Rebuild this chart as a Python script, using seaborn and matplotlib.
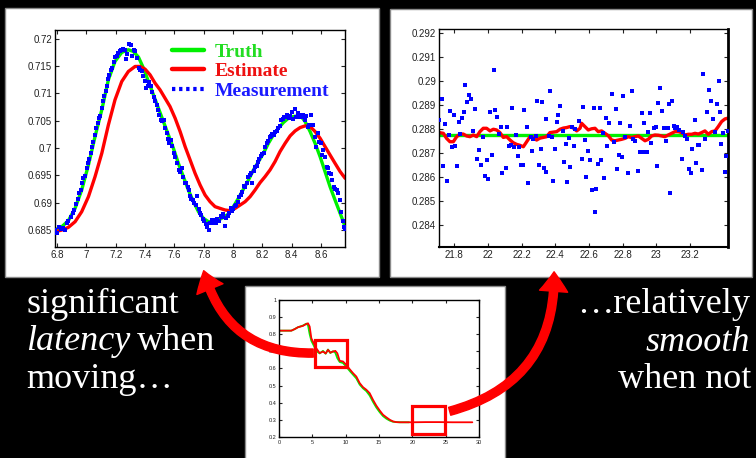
import numpy as np
import matplotlib
matplotlib.use("Agg")
import matplotlib.pyplot as plt
import seaborn as sns
from matplotlib.patches import Rectangle, FancyArrowPatch
from matplotlib.lines import Line2D
from matplotlib.ticker import FormatStrFormatter

# ---------------- data: left panel (moving) ----------------
truthL_x = [6.786, 6.832, 6.877, 6.923, 6.968, 7.014, 7.059, 7.105, 7.150, 7.195,
            7.241, 7.286, 7.320, 7.355, 7.389, 7.423, 7.457, 7.491, 7.525, 7.559,
            7.593, 7.627, 7.661, 7.695, 7.730, 7.764, 7.798, 7.832, 7.866, 7.900,
            7.934, 7.968, 8.002, 8.036, 8.070, 8.105, 8.139, 8.173, 8.207, 8.241,
            8.275, 8.309, 8.343, 8.377, 8.411, 8.445, 8.468, 8.491, 8.525, 8.559,
            8.593, 8.627, 8.661, 8.695, 8.730, 8.764]
truthL_y = [0.68500, 0.68561, 0.68671, 0.68897, 0.69233, 0.69691, 0.70210, 0.70699, 0.71249, 0.71585,
            0.71750, 0.71799, 0.71768, 0.71664, 0.71463, 0.71218, 0.70974, 0.70730, 0.70485, 0.70241,
            0.69997, 0.69722, 0.69477, 0.69233, 0.69019, 0.68836, 0.68714, 0.68653, 0.68653, 0.68683,
            0.68732, 0.68793, 0.68928, 0.69080, 0.69245, 0.69416, 0.69600, 0.69752, 0.69905, 0.70088,
            0.70241, 0.70363, 0.70467, 0.70546, 0.70577, 0.70589, 0.70565, 0.70485, 0.70302, 0.70088,
            0.69844, 0.69569, 0.69294, 0.69050, 0.68805, 0.68561]

estL_x = [6.786, 6.832, 6.877, 6.923, 6.968, 7.014, 7.059, 7.105, 7.150, 7.195,
          7.241, 7.286, 7.332, 7.366, 7.400, 7.434, 7.468, 7.502, 7.536, 7.570,
          7.605, 7.639, 7.673, 7.707, 7.741, 7.775, 7.809, 7.843, 7.877, 7.911,
          7.945, 7.980, 8.014, 8.048, 8.082, 8.116, 8.150, 8.184, 8.218, 8.252,
          8.286, 8.320, 8.355, 8.389, 8.423, 8.457, 8.491, 8.525, 8.559, 8.593,
          8.627, 8.661, 8.695, 8.730, 8.764]
estL_y = [0.68469, 0.68500, 0.68549, 0.68653, 0.68836, 0.69111, 0.69477, 0.69905, 0.70424, 0.70882,
          0.71218, 0.71401, 0.71493, 0.71493, 0.71444, 0.71340, 0.71188, 0.71066, 0.70913, 0.70760,
          0.70546, 0.70302, 0.70027, 0.69783, 0.69538, 0.69325, 0.69141, 0.69019, 0.68928, 0.68897,
          0.68867, 0.68854, 0.68897, 0.68958, 0.69019, 0.69111, 0.69233, 0.69367, 0.69477, 0.69600,
          0.69752, 0.69935, 0.70088, 0.70223, 0.70314, 0.70375, 0.70406, 0.70394, 0.70302, 0.70180,
          0.70027, 0.69874, 0.69722, 0.69569, 0.69447]

measL_x = [6.786, 6.802, 6.816, 6.827, 6.843, 6.857, 6.866, 6.877, 6.893, 6.907,
           6.916, 6.930, 6.941, 6.952, 6.964, 6.973, 6.980, 6.991, 7.002, 7.011,
           7.020, 7.030, 7.039, 7.048, 7.059, 7.068, 7.077, 7.086, 7.095, 7.105,
           7.116, 7.123, 7.132, 7.141, 7.148, 7.157, 7.166, 7.177, 7.186, 7.198,
           7.207, 7.218, 7.227, 7.239, 7.252, 7.264, 7.270, 7.280, 7.291, 7.302,
           7.314, 7.323, 7.334, 7.343, 7.357, 7.366, 7.377, 7.389, 7.400, 7.409,
           7.418, 7.427, 7.439, 7.448, 7.459, 7.468, 7.480, 7.486, 7.498, 7.509,
           7.518, 7.527, 7.539, 7.548, 7.557, 7.566, 7.575, 7.586, 7.595, 7.607,
           7.618, 7.630, 7.639, 7.650, 7.659, 7.670, 7.680, 7.691, 7.700, 7.707,
           7.716, 7.725, 7.736, 7.745, 7.755, 7.766, 7.775, 7.784, 7.795, 7.805,
           7.816, 7.825, 7.836, 7.845, 7.855, 7.866, 7.875, 7.884, 7.893, 7.905,
           7.916, 7.925, 7.934, 7.943, 7.952, 7.964, 7.975, 7.984, 7.993, 8.002,
           8.011, 8.023, 8.032, 8.043, 8.052, 8.061, 8.073, 8.082, 8.093, 8.102,
           8.114, 8.123, 8.132, 8.141, 8.152, 8.161, 8.170, 8.180, 8.191, 8.200,
           8.209, 8.220, 8.230, 8.239, 8.250, 8.259, 8.268, 8.280, 8.289, 8.298,
           8.309, 8.318, 8.327, 8.339, 8.348, 8.359, 8.370, 8.380, 8.389, 8.400,
           8.411, 8.420, 8.432, 8.441, 8.450, 8.459, 8.470, 8.480, 8.491, 8.500,
           8.509, 8.520, 8.530, 8.539, 8.548, 8.557, 8.566, 8.577, 8.586, 8.598,
           8.607, 8.616, 8.627, 8.639, 8.648, 8.657, 8.668, 8.677, 8.686, 8.695,
           8.707, 8.718, 8.727, 8.739, 8.748, 8.757, 8.764]
measL_y = [0.68500, 0.68439, 0.68561, 0.68512, 0.68537, 0.68500, 0.68634, 0.68671, 0.68744, 0.68805,
           0.68867, 0.68976, 0.69062, 0.69184, 0.69233, 0.69367, 0.69447, 0.69490, 0.69630, 0.69722,
           0.69801, 0.69917, 0.70027, 0.70119, 0.70241, 0.70375, 0.70467, 0.70546, 0.70589, 0.70730,
           0.70852, 0.70956, 0.71035, 0.71139, 0.71261, 0.71340, 0.71432, 0.71463, 0.71566, 0.71664,
           0.71676, 0.71737, 0.71768, 0.71786, 0.71811, 0.71799, 0.71627, 0.71725, 0.71896, 0.71890,
           0.71676, 0.71786, 0.71768, 0.71646, 0.71463, 0.71432, 0.71401, 0.71322, 0.71218, 0.71096,
           0.71139, 0.71200, 0.71127, 0.71017, 0.70943, 0.70870, 0.70791, 0.70699, 0.70607, 0.70516,
           0.70504, 0.70510, 0.70363, 0.70284, 0.70161, 0.70100, 0.70149, 0.70039, 0.69905, 0.69844,
           0.69722, 0.69599, 0.69569, 0.69630, 0.69477, 0.69367, 0.69355, 0.69294, 0.69233, 0.69123,
           0.69062, 0.69050, 0.68989, 0.68958, 0.69123, 0.68879, 0.68805, 0.68775, 0.68695, 0.68671,
           0.68610, 0.68561, 0.68500, 0.68634, 0.68683, 0.68634, 0.68683, 0.68634, 0.68695, 0.68671,
           0.68757, 0.68744, 0.68787, 0.68573, 0.68720, 0.68757, 0.68805, 0.68897, 0.68854, 0.68879,
           0.68940, 0.68958, 0.69019, 0.69099, 0.69141, 0.69202, 0.69306, 0.69294, 0.69367, 0.69477,
           0.69508, 0.69538, 0.69367, 0.69587, 0.69661, 0.69673, 0.69752, 0.69807, 0.69856, 0.69893,
           0.69917, 0.70027, 0.70088, 0.70137, 0.70198, 0.70223, 0.70259, 0.70241, 0.70302, 0.70320,
           0.70363, 0.70406, 0.70516, 0.70528, 0.70565, 0.70577, 0.70607, 0.70546, 0.70589, 0.70668,
           0.70528, 0.70711, 0.70565, 0.70650, 0.70577, 0.70607, 0.70577, 0.70607, 0.70516, 0.70589,
           0.70394, 0.70424, 0.70607, 0.70430, 0.70424, 0.70210, 0.70027, 0.70284, 0.70119, 0.70088,
           0.69874, 0.69966, 0.69844, 0.69661, 0.69630, 0.69551, 0.69526, 0.69416, 0.69294, 0.69245,
           0.69233, 0.69172, 0.69050, 0.68830, 0.68671, 0.68561, 0.68524]

left_xticks = [6.8, 7.0, 7.2, 7.4, 7.6, 7.8, 8.0, 8.2, 8.4, 8.6]
left_yticks = [0.685, 0.69, 0.695, 0.70, 0.705, 0.71, 0.715, 0.72]
legend_labels = ["Truth", "Estimate", "Measurement"]

# ---------------- data: right panel (still) ----------------
truthR_x = [21.709, 23.426]
truthR_y = [0.28775, 0.28775]

estR_x = [21.711, 21.735, 21.754, 21.774, 21.794, 21.814, 21.834, 21.853, 21.873, 21.893,
          21.913, 21.933, 21.952, 21.972, 21.992, 22.012, 22.032, 22.051, 22.071, 22.091,
          22.111, 22.131, 22.150, 22.170, 22.190, 22.210, 22.230, 22.250, 22.269, 22.289,
          22.309, 22.329, 22.349, 22.368, 22.388, 22.408, 22.428, 22.448, 22.467, 22.487,
          22.507, 22.527, 22.547, 22.556, 22.576, 22.596, 22.616, 22.636, 22.655, 22.675,
          22.695, 22.715, 22.735, 22.754, 22.774, 22.794, 22.814, 22.834, 22.853, 22.873,
          22.893, 22.913, 22.933, 22.952, 22.972, 22.992, 23.012, 23.032, 23.051, 23.071,
          23.091, 23.111, 23.131, 23.150, 23.170, 23.190, 23.210, 23.230, 23.250, 23.269,
          23.289, 23.309, 23.329, 23.349, 23.368, 23.388, 23.408, 23.424]
estR_y = [0.28785, 0.28782, 0.28761, 0.28747, 0.28747, 0.28768, 0.28779, 0.28779, 0.28771, 0.28768,
          0.28775, 0.28768, 0.28789, 0.28803, 0.28803, 0.28792, 0.28799, 0.28796, 0.28785, 0.28765,
          0.28768, 0.28754, 0.28743, 0.28736, 0.28732, 0.28726, 0.28747, 0.28768, 0.28765, 0.28754,
          0.28762, 0.28765, 0.28768, 0.28785, 0.28787, 0.28789, 0.28799, 0.28804, 0.28806, 0.28810,
          0.28804, 0.28792, 0.28803, 0.28824, 0.28810, 0.28796, 0.28801, 0.28803, 0.28789, 0.28792,
          0.28782, 0.28772, 0.28754, 0.28751, 0.28754, 0.28757, 0.28761, 0.28768, 0.28764, 0.28768,
          0.28771, 0.28761, 0.28751, 0.28757, 0.28771, 0.28775, 0.28774, 0.28771, 0.28768, 0.28775,
          0.28782, 0.28789, 0.28789, 0.28785, 0.28775, 0.28778, 0.28778, 0.28782, 0.28779, 0.28785,
          0.28792, 0.28778, 0.28789, 0.28792, 0.28810, 0.28831, 0.28842, 0.28845]

measR_x = [21.711, 21.725, 21.735, 21.747, 21.756, 21.766, 21.776, 21.786, 21.796, 21.806,
           21.816, 21.826, 21.836, 21.846, 21.855, 21.865, 21.875, 21.887, 21.897, 21.909,
           21.923, 21.935, 21.949, 21.960, 21.972, 21.982, 21.992, 22.002, 22.012, 22.022,
           22.034, 22.044, 22.053, 22.065, 22.075, 22.081, 22.105, 22.111, 22.123, 22.135,
           22.145, 22.154, 22.164, 22.176, 22.186, 22.196, 22.206, 22.216, 22.230, 22.240,
           22.253, 22.263, 22.269, 22.283, 22.291, 22.303, 22.315, 22.323, 22.333, 22.343,
           22.345, 22.362, 22.366, 22.378, 22.388, 22.398, 22.408, 22.418, 22.430, 22.444,
           22.451, 22.461, 22.471, 22.479, 22.489, 22.501, 22.511, 22.519, 22.541, 22.558,
           22.566, 22.576, 22.584, 22.596, 22.606, 22.616, 22.628, 22.638, 22.642, 22.655,
           22.665, 22.671, 22.681, 22.689, 22.701, 22.709, 22.721, 22.739, 22.749, 22.760,
           22.768, 22.778, 22.784, 22.796, 22.804, 22.814, 22.834, 22.844, 22.853, 22.863,
           22.875, 22.889, 22.903, 22.913, 22.923, 22.929, 22.943, 22.952, 22.962, 22.968,
           22.988, 22.996, 23.002, 23.010, 23.022, 23.032, 23.044, 23.057, 23.067, 23.075,
           23.083, 23.093, 23.103, 23.113, 23.125, 23.133, 23.150, 23.156, 23.170, 23.180,
           23.196, 23.206, 23.214, 23.228, 23.238, 23.250, 23.255, 23.273, 23.279, 23.289,
           23.301, 23.315, 23.325, 23.335, 23.350, 23.358, 23.370, 23.380, 23.386, 23.398,
           23.408, 23.412, 23.424]
measR_y = [0.28838, 0.28925, 0.28647, 0.28822, 0.28584, 0.28775, 0.28877, 0.28726, 0.28859, 0.28730,
           0.28644, 0.28829, 0.28779, 0.28847, 0.28871, 0.28984, 0.28914, 0.28942, 0.28925, 0.28793,
           0.28885, 0.28675, 0.28711, 0.28651, 0.28767, 0.28603, 0.28670, 0.28591, 0.28870, 0.28693,
           0.29044, 0.28881, 0.28849, 0.28778, 0.28808, 0.28615, 0.28637, 0.28810, 0.28730, 0.28735,
           0.28889, 0.28725, 0.28776, 0.28686, 0.28726, 0.28651, 0.28651, 0.28878, 0.28807, 0.28576,
           0.28767, 0.28707, 0.28757, 0.28769, 0.28917, 0.28651, 0.28718, 0.28912, 0.28636, 0.28622,
           0.28842, 0.28769, 0.28960, 0.28767, 0.28584, 0.28715, 0.28829, 0.28860, 0.28896, 0.28790,
           0.28662, 0.28736, 0.28580, 0.28761, 0.28640, 0.28807, 0.28728, 0.28799, 0.28835, 0.28675,
           0.28893, 0.28754, 0.28598, 0.28709, 0.28670, 0.28545, 0.28888, 0.28454, 0.28551, 0.28656,
           0.28888, 0.28670, 0.28782, 0.28595, 0.28845, 0.28729, 0.28824, 0.28945, 0.28746, 0.28884,
           0.28633, 0.28693, 0.28824, 0.28682, 0.28939, 0.28765, 0.28615, 0.28814, 0.28958, 0.28757,
           0.28748, 0.28626, 0.28705, 0.28866, 0.28705, 0.28826, 0.28705, 0.28786, 0.28866, 0.28740,
           0.28804, 0.28807, 0.28647, 0.28907, 0.28970, 0.28875, 0.28803, 0.28748, 0.28806, 0.28903,
           0.28534, 0.28916, 0.28813, 0.28803, 0.28807, 0.28796, 0.28673, 0.28786, 0.28769, 0.28757,
           0.28633, 0.28615, 0.28715, 0.28838, 0.28659, 0.28733, 0.28735, 0.28629, 0.29030, 0.28757,
           0.28872, 0.28963, 0.28916, 0.28843, 0.28786, 0.28905, 0.29002, 0.28870, 0.28736, 0.28782,
           0.28620, 0.28689, 0.28792]

right_xticks = [21.8, 22.0, 22.2, 22.4, 22.6, 22.8, 23.0, 23.2]
right_yticks = [0.284, 0.285, 0.286, 0.287, 0.288, 0.289, 0.290, 0.291, 0.292]

# ---------------- data: bottom overview panel ----------------
overT_x = [0, 1.85, 2.35, 2.85, 3.6, 4.1, 4.35, 4.6, 4.85, 5.2,
           5.6, 6.1, 6.6, 7.0, 7.35, 7.7, 8.1, 8.45, 8.75, 9.1,
           9.6, 10.1, 10.6, 11.1, 11.6, 12.1, 12.6, 13.1, 13.6, 14.1,
           14.6, 15.1, 15.6, 16.1, 16.6, 17.1, 17.6, 18.1, 18.6, 19.5]
overT_y = [0.821, 0.821, 0.830, 0.841, 0.851, 0.862, 0.852, 0.800, 0.762, 0.735,
           0.702, 0.688, 0.703, 0.686, 0.711, 0.690, 0.701, 0.692, 0.660, 0.638,
           0.632, 0.610, 0.586, 0.564, 0.542, 0.506, 0.484, 0.468, 0.442, 0.405,
           0.372, 0.345, 0.322, 0.307, 0.296, 0.289, 0.287, 0.286, 0.286, 0.286]
overE_x = [0, 1.85, 2.35, 2.85, 3.6, 4.1, 4.35, 4.6, 4.85, 5.2,
           5.6, 6.1, 6.6, 7.0, 7.35, 7.7, 8.1, 8.45, 8.75, 9.1,
           9.6, 10.1, 10.6, 11.1, 11.6, 12.1, 12.6, 13.1, 13.6, 14.1,
           14.6, 15.1, 15.6, 16.1, 16.6, 17.1, 17.6, 18.1, 18.6, 20.0,
           22.0, 24.0, 26.0, 29.0]
overE_y = [0.821, 0.821, 0.830, 0.841, 0.849, 0.860, 0.864, 0.845, 0.777, 0.748,
           0.718, 0.690, 0.699, 0.688, 0.709, 0.693, 0.699, 0.703, 0.689, 0.645,
           0.641, 0.621, 0.596, 0.573, 0.553, 0.515, 0.491, 0.476, 0.456, 0.417,
           0.383, 0.355, 0.330, 0.315, 0.301, 0.291, 0.287, 0.286, 0.286, 0.286,
           0.287, 0.287, 0.286, 0.286]
over_xticks = [0, 5, 10, 15, 20, 25, 30]
over_yticks = [0.2, 0.3, 0.4, 0.5, 0.6, 0.7, 0.8, 0.9, 1.0]
# highlighted windows: (x0, x1, y0, y1)
zoom_boxes = [(5.35, 10.2, 0.608, 0.767), (19.95, 24.85, 0.219, 0.379)]

left_text = ["significant", "latency", "when", "moving\u2026"]
right_text = ["\u2026relatively", "smooth", "when not"]

GREEN = "#00f000"
RED = "#ff0000"
BLUE = "#0000ff"

# ---------------- figure ----------------
sns.set_style("ticks")
plt.rcParams['font.family'] = ['Liberation Sans', 'DejaVu Sans']

W, H = 756, 458
fig = plt.figure(figsize=(W / 100, H / 100), dpi=100, facecolor="black")


def px_box(x0, y0, x1, y1):
    return [x0 / W, 1 - y1 / H, (x1 - x0) / W, (y1 - y0) / H]


for (x0, y0, x1, y1) in [(5, 8, 379, 277), (390, 9, 752, 277), (245, 286, 505, 460)]:
    b = px_box(x0, y0, x1, y1)
    fig.patches.append(Rectangle((b[0], b[1]), b[2], b[3], transform=fig.transFigure,
                                 facecolor="white", edgecolor="#8a8a8a", lw=1.0, zorder=-5))


def style(ax, fs, tl, xt, yt, xl, yl):
    ax.set_facecolor("white")
    ax.set_xlim(*xl)
    ax.set_ylim(*yl)
    ax.set_xticks(xt)
    ax.set_yticks(yt)
    ax.xaxis.set_major_formatter(FormatStrFormatter("%g"))
    ax.yaxis.set_major_formatter(FormatStrFormatter("%g"))
    ax.tick_params(direction="in", top=True, right=True, length=tl, width=0.8,
                   labelsize=fs, colors="#222222", pad=2)
    for s in ax.spines.values():
        s.set_visible(True)
        s.set_color("black")
        s.set_linewidth(1.0)
    ax.set_xlabel("")
    ax.set_ylabel("")


# left panel
axL = fig.add_axes(px_box(55, 30, 345, 247))
sns.lineplot(x=truthL_x, y=truthL_y, ax=axL, color=GREEN, lw=2.4)
sns.lineplot(x=estL_x, y=estL_y, ax=axL, color=RED, lw=2.4)
sns.scatterplot(x=measL_x, y=measL_y, ax=axL, color=BLUE, marker="s", s=11,
                linewidth=0, zorder=3)
style(axL, 7, 3, left_xticks, left_yticks, (6.786, 8.763), (0.6819, 0.7216))
handles = [Line2D([], [], color=GREEN, lw=3.2),
           Line2D([], [], color=RED, lw=3.2),
           Line2D([], [], color=BLUE, lw=3.0, linestyle=(0, (0.8, 0.9)))]
leg = axL.legend(handles, legend_labels, loc="upper left", bbox_to_anchor=(0.405, 0.94),
                 frameon=False, prop={"family": "Liberation Serif", "weight": "bold", "size": 14},
                 handlelength=1.6, handletextpad=0.55, labelspacing=0.1,
                 borderpad=0, borderaxespad=0)
for t, c in zip(leg.get_texts(), ["#22dd22", "#ee1111", "#1a1aff"]):
    t.set_color(c)

# right panel
axR = fig.add_axes(px_box(439, 29, 728, 247))
sns.lineplot(x=truthR_x, y=truthR_y, ax=axR, color=GREEN, lw=2.4)
sns.lineplot(x=estR_x, y=estR_y, ax=axR, color=RED, lw=2.4)
sns.scatterplot(x=measR_x, y=measR_y, ax=axR, color=BLUE, marker="s", s=12,
                linewidth=0, zorder=3)
style(axR, 7, 3, right_xticks, right_yticks, (21.709, 23.426), (0.28308, 0.29217))
axR.spines["right"].set_linewidth(2.0)
axR.spines["bottom"].set_linewidth(1.5)

# bottom overview panel
axB = fig.add_axes(px_box(279, 300, 479, 437))
sns.lineplot(x=overT_x, y=overT_y, ax=axB, color=GREEN, lw=1.3)
sns.lineplot(x=overE_x, y=overE_y, ax=axB, color=RED, lw=1.3)
style(axB, 4, 2, over_xticks, over_yticks, (0, 30), (0.2, 1.0))
for (x0, x1, y0, y1) in zoom_boxes:
    axB.add_patch(Rectangle((x0, y0), x1 - x0, y1 - y0, fill=False,
                            edgecolor=RED, lw=2.3, zorder=5))

# arrows
arrow_kw = dict(transform=fig.transFigure, color=RED, zorder=20, mutation_scale=14,
                arrowstyle="simple,head_length=1.0,head_width=1.45,tail_width=0.42")
fig.patches.append(FancyArrowPatch((316 / W, 1 - 353 / H), (203 / W, 1 - 268 / H),
                                   connectionstyle="arc3,rad=-0.4", **arrow_kw))
fig.patches.append(FancyArrowPatch((447 / W, 1 - 412 / H), (554 / W, 1 - 269 / H),
                                   connectionstyle="arc3,rad=0.4", **arrow_kw))

# slide text
tk = dict(color="white", fontsize=26, family="Liberation Serif", va="baseline")
fig.text(26 / W, 1 - 313 / H, left_text[0], ha="left", **tk)
fig.text(26 / W, 1 - 350 / H, left_text[1], ha="left", style="italic", **tk)
fig.text(137 / W, 1 - 350 / H, left_text[2], ha="left", **tk)
fig.text(26 / W, 1 - 388 / H, left_text[3], ha="left", **tk)
fig.text(750 / W, 1 - 313 / H, right_text[0], ha="right", **tk)
fig.text(750 / W, 1 - 351 / H, right_text[1], ha="right", style="italic", **tk)
fig.text(751 / W, 1 - 388 / H, right_text[2], ha="right", **tk)

fig.savefig("out.png", dpi=100, facecolor="black")
